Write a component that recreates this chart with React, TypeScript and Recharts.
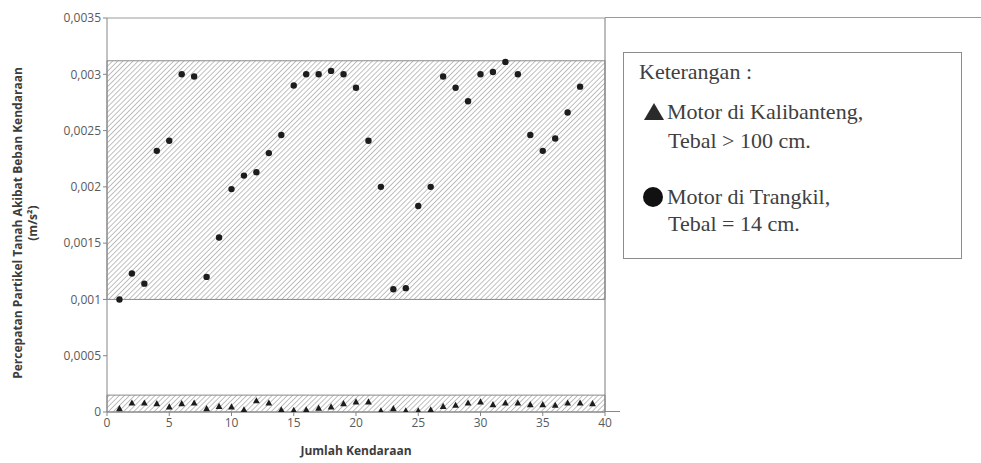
import React from 'react';
import { ScatterChart, Scatter, XAxis, YAxis, ReferenceArea, ReferenceLine } from 'recharts';

// vehicle number (x axis)
const vehicleNo = [1, 2, 3, 4, 5, 6, 7, 8, 9, 10, 11, 12, 13, 14, 15, 16, 17, 18, 19, 20,
  21, 22, 23, 24, 25, 26, 27, 28, 29, 30, 31, 32, 33, 34, 35, 36, 37, 38, 39];

// Motor di Trangkil, tebal = 14 cm (circles)
const trangkil = [0.00100, 0.00123, 0.00114, 0.00232, 0.00241, 0.00300, 0.00298, 0.00120, 0.00155, 0.00198,
  0.00210, 0.00213, 0.00230, 0.00246, 0.00290, 0.00300, 0.00300, 0.00303, 0.00300, 0.00288,
  0.00241, 0.00200, 0.00109, 0.00110, 0.00183, 0.00200, 0.00298, 0.00288, 0.00276, 0.00300,
  0.00302, 0.00311, 0.00300, 0.00246, 0.00232, 0.00243, 0.00266, 0.00289];

// Motor di Kalibanteng, tebal > 100 cm (triangles)
const kalibanteng = [0.00003, 0.00008, 0.00008, 0.000075, 0.000045, 0.000075, 0.00008, 0.00003, 0.00005, 0.000045,
  0.00002, 0.0001, 0.00008, 0.00002, 0.000015, 0.00002, 0.000035, 0.000045, 0.000075, 0.00009,
  0.00009, 0.00001, 0.00003, 0.00001, 0.00001, 0.00002, 0.00005, 0.00006, 0.00008, 0.00009,
  0.000065, 0.00008, 0.00008, 0.000065, 0.000065, 0.00006, 0.00008, 0.00008, 0.000075];

// hatched bands
const upperBand = [0.001, 0.00312];
const lowerBand = [0, 0.00015];

const xTicks = [0, 5, 10, 15, 20, 25, 30, 35, 40];
const yTicks = [0, 0.0005, 0.001, 0.0015, 0.002, 0.0025, 0.003, 0.0035];

const trangkilData = trangkil.map((v, i) => ({ x: vehicleNo[i], y: v }));
const kalibantengData = kalibanteng.map((v, i) => ({ x: vehicleNo[i], y: v }));

const fmt = (v: number) => String(v).replace('.', ',');

// small markers like the Excel original
const Dot = (p: any) => <circle cx={p.cx} cy={p.cy} r={3.2} fill="#1c1c1c" />;
const Tri = (p: any) => (
  <polygon
    points={`${p.cx},${p.cy - 3.6} ${p.cx + 3.4},${p.cy + 2.6} ${p.cx - 3.4},${p.cy + 2.6}`}
    fill="#1c1c1c"
  />
);

const YLabel = (props: any) => {
  const vb = props.viewBox || {};
  const cy = vb.y + vb.height / 2 + 8;
  return (
    <g fill="#3c3c3c" fontFamily="'Open Sans', sans-serif" fontWeight={700} fontSize={12}>
      <text x={17} y={cy} textAnchor="middle" dominantBaseline="central" transform={`rotate(-90 17 ${cy})`}>
        Percepatan Partikel Tanah Akibat Beban Kendaraan
      </text>
      <text x={32} y={cy} textAnchor="middle" dominantBaseline="central" transform={`rotate(-90 32 ${cy})`}>
        (m/s²)
      </text>
    </g>
  );
};

const legendText: React.CSSProperties = {
  position: 'absolute',
  fontFamily: "'Liberation Serif', 'Times New Roman', serif",
  fontSize: 22,
  color: '#404040',
  whiteSpace: 'nowrap',
  lineHeight: 1,
};

export default function App() {
  return (
    <div style={{ position: 'absolute', left: 0, top: 0, width: 981, height: 463, background: '#fff' }}>
      <ScatterChart width={981} height={463} margin={{ top: 18, right: 376, bottom: 21, left: 0 }}>
        <defs>
          <pattern id="hatch" patternUnits="userSpaceOnUse" width={3.6} height={3.6} patternTransform="rotate(45)">
            <rect width={3.6} height={3.6} fill="#ffffff" />
            <line x1={0} y1={0} x2={0} y2={3.6} stroke="#b0b0b0" strokeWidth={1.6} />
          </pattern>
        </defs>
        <XAxis
          type="number"
          dataKey="x"
          domain={[0, 40]}
          ticks={xTicks}
          tickSize={4}
          stroke="#868686"
          tick={{ fill: '#5a5a5a', fontSize: 12, fontFamily: "'Open Sans', sans-serif" }}
          label={{ value: 'Jumlah Kendaraan', position: 'insideBottom', offset: -13, fill: '#3c3c3c', fontSize: 12, fontWeight: 700, fontFamily: "'Open Sans', sans-serif" }}
          allowDataOverflow
        />
        <YAxis
          type="number"
          dataKey="y"
          domain={[0, 0.0035]}
          ticks={yTicks}
          tickFormatter={fmt}
          width={107}
          tickSize={4}
          stroke="#868686"
          tick={{ fill: '#5a5a5a', fontSize: 12, fontFamily: "'Open Sans', sans-serif" }}
          label={<YLabel />}
          allowDataOverflow
        />
        <ReferenceArea y1={upperBand[0]} y2={upperBand[1]} x1={0} x2={40} fill="url(#hatch)" fillOpacity={1} stroke="#8a8a8a" strokeWidth={1} />
        <ReferenceArea y1={lowerBand[0]} y2={lowerBand[1]} x1={0} x2={40} fill="url(#hatch)" fillOpacity={1} stroke="#8a8a8a" strokeWidth={1} />
        <ReferenceLine y={0.0035} stroke="#9a9a9a" />
        <ReferenceLine x={40} stroke="#7a7a7a" />
        <Scatter name="Motor di Kalibanteng" data={kalibantengData} shape={<Tri />} fill="#1c1c1c" isAnimationActive={false} />
        <Scatter name="Motor di Trangkil" data={trangkilData} shape={<Dot />} fill="#1c1c1c" isAnimationActive={false} />
      </ScatterChart>

      {/* lines of the chart frame running past the plot */}
      <div style={{ position: 'absolute', left: 605, top: 17, width: 376, height: 1, background: '#9a9a9a' }} />
      <div style={{ position: 'absolute', left: 605, top: 411, width: 15, height: 1, background: '#868686' }} />

      {/* legend box */}
      <div style={{ position: 'absolute', left: 623, top: 52, width: 337, height: 205, border: '1px solid #8c8c8c', background: '#fff' }}>
        <div style={{ ...legendText, left: 15, top: 8 }}>Keterangan :</div>
        <svg style={{ position: 'absolute', left: 19, top: 49 }} width={22} height={19}>
          <polygon points="11,1 21,18 1,18" fill="#2a2a2a" />
        </svg>
        <div style={{ ...legendText, left: 43, top: 48 }}>Motor di Kalibanteng,</div>
        <div style={{ ...legendText, left: 44, top: 77 }}>Tebal &gt; 100 cm.</div>
        <svg style={{ position: 'absolute', left: 18, top: 133 }} width={22} height={22}>
          <circle cx={11} cy={11} r={10} fill="#111" />
        </svg>
        <div style={{ ...legendText, left: 43, top: 133 }}>Motor di Trangkil,</div>
        <div style={{ ...legendText, left: 44, top: 160 }}>Tebal = 14 cm.</div>
      </div>
    </div>
  );
}
